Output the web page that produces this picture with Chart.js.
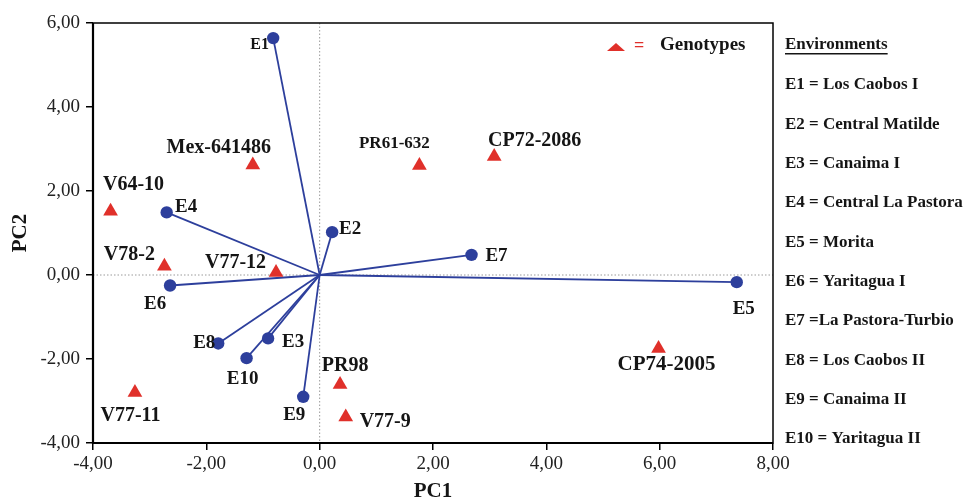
<!DOCTYPE html>
<html><head><meta charset="utf-8">
<script src="https://cdn.jsdelivr.net/npm/chart.js@4.4.1/dist/chart.umd.min.js"></script>
<style>html,body{margin:0;padding:0;background:#fff}</style>
</head><body>
<canvas id="c" width="965" height="503"></canvas>
<script>
// ---- data ----
const envNames = ['E1','E2','E3','E4','E5','E6','E7','E8','E9','E10'];
const envPC1 = [-0.82, 0.22, -0.91, -2.70, 7.36, -2.64, 2.68, -1.79, -0.29, -1.29];
const envPC2 = [5.64, 1.02, -1.51, 1.49, -0.17, -0.25, 0.48, -1.63, -2.90, -1.98];
const genoNames = ['Mex-641486','V64-10','PR61-632','CP72-2086','V78-2','V77-12','V77-11','PR98','V77-9','CP74-2005'];
const genoPC1 = [-1.18, -3.69, 1.76, 3.08, -2.74, -0.77, -3.26, 0.36, 0.46, 5.98];
const genoPC2 = [2.62, 1.52, 2.61, 2.82, 0.21, 0.06, -2.80, -2.61, -3.38, -1.75];
const envLegendTitle = 'Environments';
const envLegend = ['E1 = Los Caobos I','E2 = Central Matilde','E3 = Canaima I','E4 = Central La Pastora','E5 = Morita','E6 = Yaritagua I','E7 =La Pastora-Turbio','E8 = Los Caobos II','E9 = Canaima II','E10 = Yaritagua II'];
const genoLegendText = 'Genotypes';
const xTicks = [-4,-2,0,2,4,6,8];
const yTicks = [-4,-2,0,2,4,6];
const xTitle = 'PC1', yTitle = 'PC2';

// ---- styles / layout ----
const BLUE = '#2d3f9c', RED = '#e0302a', INK = '#151515';
const FONT = '"Liberation Serif","Times New Roman",serif';
const envLabelStyle = { // [dx, dy, size]
  E1:[-13.5,7,16], E2:[18,-3.5,19], E3:[25,4,19], E4:[19.5,-5,19], E5:[7,27,19],
  E6:[-15,19,19], E7:[25,1,19], E8:[-14,0,19], E9:[-9,18,19], E10:[-4,20.5,19]
};
const genoLabelStyle = {
  'Mex-641486':[-34,-17.5,20], 'V64-10':[23,-26.5,20], 'PR61-632':[-25,-21.5,17],
  'CP72-2086':[40.5,-16,20], 'V78-2':[-35,-11.5,20], 'V77-12':[-40.5,-9.5,20],
  'V77-11':[-4.5,23,20], 'PR98':[5,-19,20], 'V77-9':[39.5,5,20], 'CP74-2005':[8,16,21]
};
const fmt = v => Number(v).toFixed(2).replace('.', ',');

const vectorSets = envNames.map((n,i) => ({
  type:'scatter', showLine:true, order:3,
  data:[{x:0,y:0},{x:envPC1[i],y:envPC2[i]}],
  borderColor:BLUE, borderWidth:1.8, pointRadius:0, fill:false
}));

const decor = {
  id:'decor',
  beforeDatasetsDraw(chart){
    const {ctx, chartArea:a, scales:{x,y}} = chart;
    ctx.save();
    ctx.strokeStyle = '#9a9a9a'; ctx.lineWidth = 1; ctx.setLineDash([1.5,2]);
    const x0 = x.getPixelForValue(0), y0 = y.getPixelForValue(0);
    ctx.beginPath(); ctx.moveTo(x0, a.top); ctx.lineTo(x0, a.bottom); ctx.stroke();
    ctx.beginPath(); ctx.moveTo(a.left, y0); ctx.lineTo(a.right, y0); ctx.stroke();
    ctx.restore();
  },
  afterDraw(chart){
    const {ctx, chartArea:a, scales:{x,y}} = chart;
    ctx.save();
    // frame
    ctx.strokeStyle = '#000'; ctx.lineWidth = 1.5; ctx.setLineDash([]);
    ctx.strokeRect(a.left, a.top, a.right-a.left, a.bottom-a.top);
    ctx.lineWidth = 2.2;
    ctx.beginPath(); ctx.moveTo(a.left, a.top); ctx.lineTo(a.left, a.bottom); ctx.lineTo(a.right, a.bottom); ctx.stroke();
    // point labels
    ctx.fillStyle = INK; ctx.textAlign = 'center'; ctx.textBaseline = 'middle';
    envNames.forEach((n,i) => {
      const s = envLabelStyle[n];
      ctx.font = `bold ${s[2]}px ${FONT}`;
      ctx.fillText(n, x.getPixelForValue(envPC1[i]) + s[0], y.getPixelForValue(envPC2[i]) + s[1]);
    });
    genoNames.forEach((n,i) => {
      const s = genoLabelStyle[n];
      ctx.font = `bold ${s[2]}px ${FONT}`;
      ctx.fillText(n, x.getPixelForValue(genoPC1[i]) + s[0], y.getPixelForValue(genoPC2[i]) + s[1]);
    });
    // inner legend
    ctx.fillStyle = RED;
    ctx.beginPath(); ctx.moveTo(607, 51); ctx.lineTo(616, 43); ctx.lineTo(625, 51); ctx.closePath(); ctx.fill();
    ctx.font = `bold 18px ${FONT}`; ctx.textAlign = 'left';
    ctx.fillText('=', 634, 46);
    ctx.fillStyle = INK; ctx.font = `bold 19px ${FONT}`;
    ctx.fillText(genoLegendText, 660, 45);
    // right legend
    ctx.font = `bold 17px ${FONT}`;
    ctx.fillText(envLegendTitle, 785, 45);
    const w = ctx.measureText(envLegendTitle).width;
    ctx.fillRect(785, 53, w, 1.5);
    envLegend.forEach((t,i) => ctx.fillText(t, 785, 85 + i*39.33));
    ctx.restore();
  }
};

new Chart(document.getElementById('c'), {
  type:'scatter',
  data:{ datasets:[
    ...vectorSets,
    { label:'Environments', order:2, data:envNames.map((n,i)=>({x:envPC1[i],y:envPC2[i]})),
      pointStyle:'circle', pointRadius:6.2, backgroundColor:BLUE, borderColor:BLUE, borderWidth:0 },
    { label:'Genotypes', order:1, data:genoNames.map((n,i)=>({x:genoPC1[i],y:genoPC2[i]})),
      pointStyle:'triangle', pointRadius:8.5, backgroundColor:RED, borderColor:RED, borderWidth:0 }
  ]},
  options:{
    responsive:false, animation:false, devicePixelRatio:1,
    layout:{ padding:{left:0, right:192, top:23, bottom:0} },
    plugins:{ legend:{display:false}, tooltip:{enabled:false} },
    scales:{
      x:{ type:'linear', min:-4, max:8,
        afterBuildTicks: s => { s.ticks = xTicks.map(v=>({value:v})); },
        afterFit: s => { s.height = 60; },
        ticks:{ callback: fmt, color:'#222', font:{family:FONT, size:19}, padding:3, maxRotation:0 },
        grid:{ display:true, drawOnChartArea:false, drawTicks:true, tickLength:7, color:'#000', lineWidth:1.5 },
        border:{ display:false },
        title:{ display:true, text:xTitle, color:INK, font:{family:FONT, size:21, weight:'bold', lineHeight:1}, padding:{top:0,bottom:1} }
      },
      y:{ type:'linear', min:-4, max:6,
        afterBuildTicks: s => { s.ticks = yTicks.map(v=>({value:v})); },
        afterFit: s => { s.width = 93; },
        ticks:{ callback: fmt, color:'#222', font:{family:FONT, size:19}, padding:6 },
        grid:{ display:true, drawOnChartArea:false, drawTicks:true, tickLength:7, color:'#000', lineWidth:1.5 },
        border:{ display:false },
        title:{ display:true, text:yTitle, color:INK, font:{family:FONT, size:21, weight:'bold', lineHeight:1}, padding:{top:10,bottom:0} }
      }
    }
  },
  plugins:[decor]
});
</script>
</body></html>
